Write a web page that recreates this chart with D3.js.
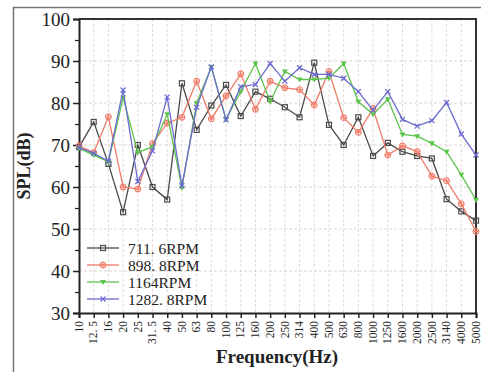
<!DOCTYPE html>
<html><head><meta charset="utf-8">
<script src="https://cdn.jsdelivr.net/npm/d3@7"></script>
<style>body{margin:0;background:#fff}svg{display:block}</style>
</head><body><svg id="c" width="481" height="372"></svg>
<script>
const categories = ["10","12.5","16","20","25","31.5","40","50","63","80","100","125","160","200","250","314","400","500","630","800","1000","1250","1600","2000","2500","3140","4000","5000"];
const tickLabels = ["10","12. 5","16","20","25","31. 5","40","50","63","80","100","125","160","200","250","314","400","500","630","800","1000","1250","1600","2000","2500","3140","4000","5000"];
const rpm711 = [69.5,75.5,65.5,54,70,60,57,84.7,73.6,79.4,84.3,76.9,82.7,81,79,76.6,89.6,74.8,70,76.6,67.4,70.5,68.4,67.4,66.8,57.1,54.2,52];
const rpm898 = [69.8,68.2,76.7,60,59.5,70.3,75.2,76.6,85.2,76.2,81.7,86.9,78.5,85.2,83.6,83.2,79.5,87.5,76.5,73,78.7,67.6,69.8,68.4,62.6,61.5,56,49.4];
const rpm1164 = [69.2,67.6,66,81.3,68.2,69.6,77.3,59.8,80,88.6,76.1,82.7,89.4,80.3,87.5,85.6,85.6,85.9,89.4,80.3,77.3,80.9,72.5,72.1,70.4,68.4,62.9,56.9];
const rpm1282 = [69.4,68,66.2,83.1,61.3,68.6,81.4,60.3,79,88.6,76,83.9,84.4,89.4,85.2,88.4,86.8,86.8,85.9,82.7,78.3,82.7,76.1,74.5,75.8,80.1,72.6,67.6];
const seriesNames = ["711. 6RPM","898. 8RPM","1164RPM","1282. 8RPM"];
const seriesColors = ["#4a4a4a","#f07a66","#5cc44c","#6a6ad0"];
const yTicks = [30,40,50,60,70,80,90,100];

const svg = d3.select("#c");
const L=79, R=476, T=19, B=313;
const serif = "'Liberation Serif','DejaVu Serif',serif";

svg.append("path").attr("d","M13.5,372 L13.5,7.5 L481,7.5").attr("fill","none").attr("stroke","#777").attr("stroke-width",1.5);

const x = d3.scalePoint().domain(categories).range([L,R]);
const y = d3.scaleLinear().domain([30,100]).range([B,T]);

const g = svg.append("g");
g.selectAll("line.v").data(categories.slice(1,-1)).join("line")
  .attr("x1",d=>x(d)).attr("x2",d=>x(d)).attr("y1",T).attr("y2",B)
  .attr("stroke","#e6d8d8").attr("stroke-width",1).attr("stroke-dasharray","3,2");
g.selectAll("line.h").data(yTicks.slice(1,-1)).join("line")
  .attr("x1",L).attr("x2",R).attr("y1",d=>y(d)).attr("y2",d=>y(d))
  .attr("stroke","#e0d4d4").attr("stroke-width",1).attr("stroke-dasharray","3,2");

svg.append("path").attr("d",`M${L},${T} L${R},${T} L${R},${B}`).attr("fill","none").attr("stroke","#333").attr("stroke-width",2);

const yAxis = d3.axisLeft(y).tickValues(yTicks).tickSize(6).tickPadding(3);
const ya = svg.append("g").attr("transform",`translate(${L},0)`).call(yAxis);
ya.select(".domain").attr("stroke","#222").attr("stroke-width",2);
ya.selectAll(".tick line").attr("stroke","#222").attr("stroke-width",1.5);
ya.selectAll("text").attr("font-family",serif).attr("font-size",19).attr("fill","#222");
const yMinor = d3.axisLeft(y).tickValues([35,45,55,65,75,85,95]).tickSize(4).tickFormat("");
const ym = svg.append("g").attr("transform",`translate(${L},0)`).call(yMinor);
ym.select(".domain").remove();
ym.selectAll(".tick line").attr("stroke","#222").attr("stroke-width",1.2);

const xAxis = d3.axisBottom(x).tickSize(5).tickPadding(3).tickFormat((d,i)=>tickLabels[i]);
const xa = svg.append("g").attr("transform",`translate(0,${B})`).call(xAxis);
xa.select(".domain").attr("stroke","#222").attr("stroke-width",2);
xa.selectAll(".tick line").attr("stroke","#222").attr("stroke-width",1.5);
xa.selectAll("text").attr("font-family",serif).attr("font-size",11.5).attr("fill","#222")
  .attr("transform","rotate(-90)").attr("text-anchor","end").attr("dx","-8").attr("y",0).attr("x",0)
  .attr("dominant-baseline","middle").attr("dy","0.05em");

svg.append("text").attr("x",277).attr("y",363).attr("text-anchor","middle")
  .attr("font-family",serif).attr("font-weight","bold").attr("font-size",19).attr("fill","#222").text("Frequency(Hz)");
svg.append("text").attr("transform","translate(30,166) rotate(-90)").attr("text-anchor","middle")
  .attr("font-family",serif).attr("font-weight","bold").attr("font-size",18).attr("fill","#222").text("SPL(dB)");

const allSeries = [rpm711,rpm898,rpm1164,rpm1282];
const line = d3.line().x((d,i)=>x(categories[i])).y(d=>y(d));
function marker(sel,k,c){
  if(k===0){ sel.append("rect").attr("x",-2.5).attr("y",-2.5).attr("width",5).attr("height",5).attr("fill","none").attr("stroke",c).attr("stroke-width",1.2);}
  else if(k===1){ sel.append("circle").attr("r",2.8).attr("fill","none").attr("stroke",c).attr("stroke-width",1.2);
    sel.append("path").attr("d","M-2,0H2M0,-2V2").attr("stroke",c).attr("stroke-width",1);}
  else if(k===2){ sel.append("path").attr("d","M-3,-2L3,-2L0,3Z").attr("fill",c);}
  else { sel.append("path").attr("d","M-2.5,-2.5L2.5,2.5M-2.5,2.5L2.5,-2.5").attr("stroke",c).attr("stroke-width",1.3);}
}
allSeries.forEach((s,k)=>{
  const c = seriesColors[k];
  svg.append("path").datum(s).attr("d",line).attr("fill","none").attr("stroke",c).attr("stroke-width",1.3);
  svg.append("g").selectAll("g").data(s).join("g")
    .attr("transform",(d,i)=>`translate(${x(categories[i])},${y(d)})`)
    .each(function(){ marker(d3.select(this),k,c); });
});

const lg = svg.append("g");
seriesNames.forEach((n,k)=>{
  const yy = 248 + k*17;
  const c = seriesColors[k];
  lg.append("line").attr("x1",87).attr("x2",119).attr("y1",yy).attr("y2",yy).attr("stroke",c).attr("stroke-width",1.3);
  const m = lg.append("g").attr("transform",`translate(103,${yy})`);
  marker(m,k,c);
  lg.append("text").attr("x",128).attr("y",yy).attr("dominant-baseline","central")
    .attr("font-family",serif).attr("font-size",15.5).attr("fill","#222").text(n);
});
</script></body></html>
